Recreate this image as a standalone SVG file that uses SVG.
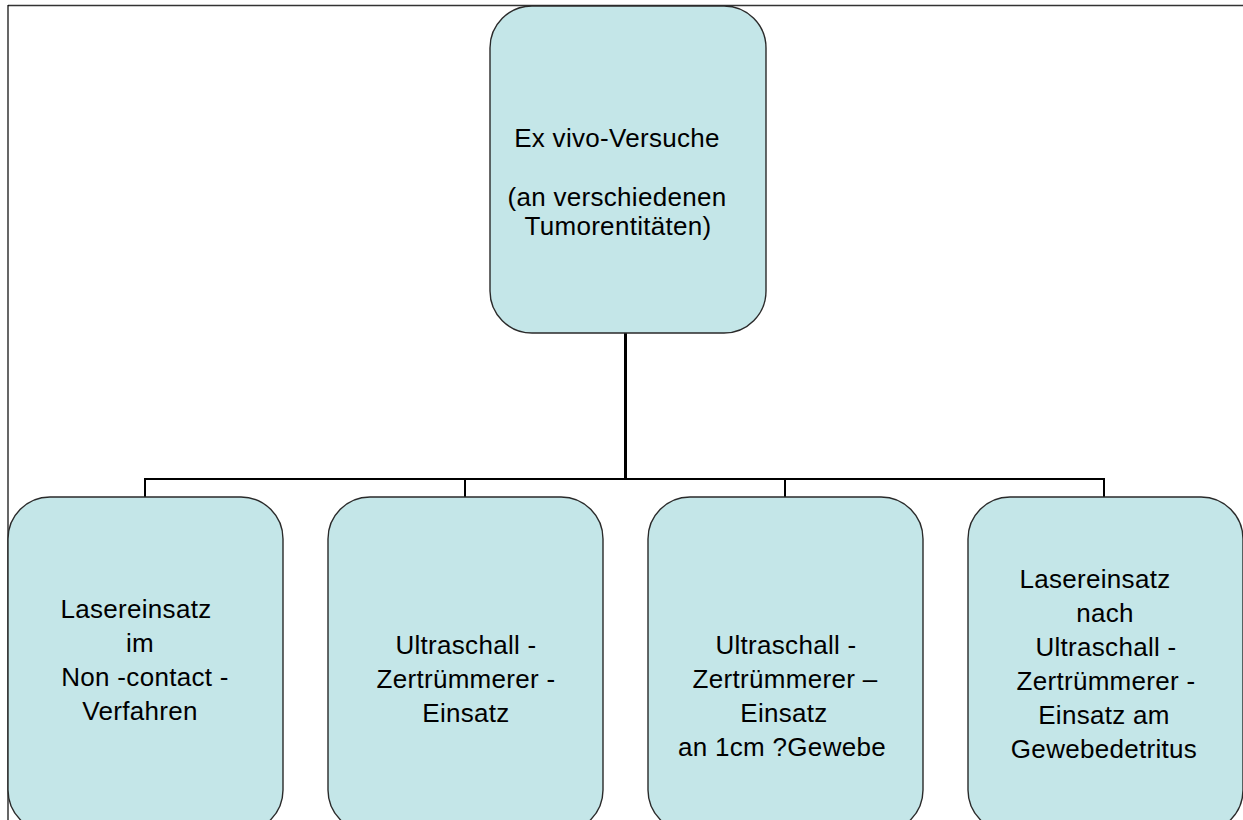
<svg xmlns="http://www.w3.org/2000/svg" width="1243" height="820" viewBox="0 0 1243 820">
<style>
.box{fill:#C4E6E8;stroke:#2a2a2a;stroke-width:1.4}
.t{font-family:"Liberation Sans",Arial,sans-serif;font-size:26px;letter-spacing:0.3px;fill:#000;text-anchor:middle}
.conn{stroke:#000;fill:none}
</style>
<rect width="1243" height="820" fill="#fff"/>
<g id="frame">
<line x1="8" y1="5.5" x2="1243" y2="5.5" stroke="#333" stroke-width="1.6"/>
<line x1="8" y1="5" x2="8" y2="820" stroke="#000" stroke-width="1.2"/>
</g>
<g id="connectors">
<line class="conn" x1="625.5" y1="333" x2="625.5" y2="479" stroke-width="3"/>
<line class="conn" x1="144" y1="479" x2="1105" y2="479" stroke-width="2"/>
<line class="conn" x1="145" y1="478" x2="145" y2="497" stroke-width="2"/>
<line class="conn" x1="465" y1="478" x2="465" y2="497" stroke-width="2"/>
<line class="conn" x1="785" y1="478" x2="785" y2="497" stroke-width="2"/>
<line class="conn" x1="1104" y1="478" x2="1104" y2="497" stroke-width="2"/>
</g>
<g id="node-top">
<rect class="box" x="490" y="6" width="276" height="327" rx="42" ry="42"/>
<text class="t" x="617" y="147">Ex vivo-Versuche</text>
<text class="t" x="617" y="206">(an verschiedenen</text>
<text class="t" x="618" y="235">Tumorentitäten)</text>
</g>
<g id="node-1">
<rect class="box" x="8" y="497" width="275" height="335" rx="42" ry="42"/>
<text class="t" x="136" y="618">Lasereinsatz</text>
<text class="t" x="140" y="652">im</text>
<text class="t" x="145" y="686">Non -contact -</text>
<text class="t" x="140" y="720">Verfahren</text>
</g>
<g id="node-2">
<rect class="box" x="328" y="497" width="275" height="335" rx="42" ry="42"/>
<text class="t" x="466" y="654">Ultraschall -</text>
<text class="t" x="466" y="688">Zertrümmerer -</text>
<text class="t" x="466" y="722">Einsatz</text>
</g>
<g id="node-3">
<rect class="box" x="648" y="497" width="275" height="335" rx="42" ry="42"/>
<text class="t" x="786" y="654">Ultraschall -</text>
<text class="t" x="785" y="688">Zertrümmerer –</text>
<text class="t" x="784" y="722">Einsatz</text>
<text class="t" x="782" y="756">an 1cm ?Gewebe</text>
</g>
<g id="node-4">
<rect class="box" x="968" y="497" width="275" height="335" rx="42" ry="42"/>
<text class="t" x="1095" y="588">Lasereinsatz</text>
<text class="t" x="1105" y="622">nach</text>
<text class="t" x="1106" y="656">Ultraschall -</text>
<text class="t" x="1106" y="690">Zertrümmerer -</text>
<text class="t" x="1104" y="724">Einsatz am</text>
<text class="t" x="1104" y="758">Gewebedetritus</text>
</g>
</svg>
